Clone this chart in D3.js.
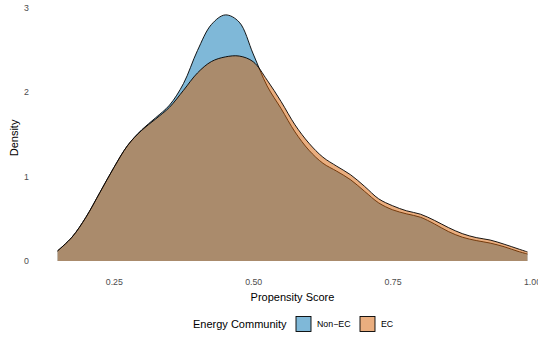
<!DOCTYPE html>
<html>
<head>
<meta charset="utf-8">
<script src="https://cdn.jsdelivr.net/npm/d3@7/dist/d3.min.js"></script>
<style>
  html, body { margin: 0; padding: 0; background: #fff; }
  svg { display: block; font-family: "Liberation Sans", Arial, Helvetica, sans-serif; }
</style>
</head>
<body>
<svg id="chart" width="538" height="337"></svg>
<script>
// Propensity score grid shared by both density estimates
const scoreGrid = [0.149, 0.175, 0.2, 0.225, 0.25, 0.275, 0.3, 0.325, 0.35, 0.375,
  0.4, 0.425, 0.45, 0.475, 0.5, 0.525, 0.55, 0.575, 0.6, 0.625, 0.65, 0.675, 0.7,
  0.725, 0.75, 0.775, 0.8, 0.825, 0.85, 0.875, 0.9, 0.925, 0.95, 0.975, 0.992];

// Kernel density of the propensity score, non-members
const densityNonEC = [0.119, 0.282, 0.518, 0.810, 1.104, 1.369, 1.552, 1.695, 1.845, 2.100,
  2.490, 2.798, 2.912, 2.826, 2.450, 2.071, 1.804, 1.527, 1.311, 1.157, 1.062, 0.960, 0.823,
  0.688, 0.606, 0.558, 0.518, 0.439, 0.349, 0.282, 0.242, 0.212, 0.169, 0.114, 0.083];

// Kernel density of the propensity score, energy community members
const densityEC = [0.119, 0.282, 0.518, 0.810, 1.104, 1.369, 1.546, 1.680, 1.820, 2.020,
  2.225, 2.360, 2.415, 2.425, 2.358, 2.140, 1.887, 1.611, 1.394, 1.229, 1.121, 1.019, 0.882,
  0.736, 0.654, 0.594, 0.554, 0.481, 0.396, 0.324, 0.277, 0.248, 0.199, 0.144, 0.107];

const groupNames = ["Non\u2212EC", "EC"];
const groupColors = ["#0072B2", "#D55E00"];
const xTicks = [0.25, 0.5, 0.75, 1.0];
const yTicks = [0, 1, 2, 3];

const series = [
  { name: groupNames[0], color: groupColors[0], values: densityNonEC },
  { name: groupNames[1], color: groupColors[1], values: densityEC }
];

const svg = d3.select("#chart");

// Panel spans the data range with a 5% margin on each side
const xMin = d3.min(scoreGrid), xMax = d3.max(scoreGrid);
const xPad = (xMax - xMin) * 0.05;
const yMax = d3.max([...densityNonEC, ...densityEC]);
const yPad = yMax * 0.05;

const panel = { left: 34, right: 551, top: 2.6, bottom: 273.3 };

const x = d3.scaleLinear().domain([xMin - xPad, xMax + xPad]).range([panel.left, panel.right]);
const y = d3.scaleLinear().domain([-yPad, yMax + yPad]).range([panel.bottom, panel.top]);

const area = d3.area()
  .x(d => x(d[0]))
  .y0(y(0))
  .y1(d => y(d[1]))
  .curve(d3.curveCatmullRom.alpha(0.5));

const line = d3.line()
  .x(d => x(d[0]))
  .y(d => y(d[1]))
  .curve(d3.curveCatmullRom.alpha(0.5));

const layers = svg.append("g");
series.forEach(s => {
  const pts = scoreGrid.map((v, i) => [v, s.values[i]]);
  layers.append("path")
    .attr("d", area(pts))
    .attr("fill", s.color)
    .attr("fill-opacity", 0.5);
  layers.append("path")
    .attr("d", line(pts))
    .attr("fill", "none")
    .attr("stroke", "#000")
    .attr("stroke-width", 0.9);
});

// Axes: labels only, no lines or ticks
const xAxis = svg.append("g")
  .attr("transform", `translate(0,${panel.bottom + 2})`)
  .call(d3.axisBottom(x).tickValues(xTicks).tickFormat(d3.format(".2f")).tickSize(0).tickPadding(3));
xAxis.select(".domain").remove();
xAxis.selectAll("text").attr("fill", "#4d4d4d").attr("font-size", "8.8px")
  .attr("font-family", "Liberation Sans, Arial, sans-serif");

const yAxis = svg.append("g")
  .attr("transform", `translate(${panel.left - 5},0)`)
  .call(d3.axisLeft(y).tickValues(yTicks).tickFormat(d3.format("d")).tickSize(0).tickPadding(0));
yAxis.select(".domain").remove();
yAxis.selectAll("text").attr("fill", "#4d4d4d").attr("font-size", "8.8px")
  .attr("font-family", "Liberation Sans, Arial, sans-serif");

svg.append("text")
  .attr("x", (panel.left + panel.right) / 2)
  .attr("y", 301)
  .attr("text-anchor", "middle")
  .attr("font-size", "11px")
  .attr("fill", "#000")
  .text("Propensity Score");

svg.append("text")
  .attr("transform", `translate(18,${(panel.top + panel.bottom) / 2}) rotate(-90)`)
  .attr("text-anchor", "middle")
  .attr("font-size", "11px")
  .attr("fill", "#000")
  .text("Density");

// Legend along the bottom
const legend = svg.append("g").attr("transform", "translate(0,324)");
legend.append("text")
  .attr("x", 193).attr("y", 4)
  .attr("font-size", "11px").attr("fill", "#000")
  .text("Energy Community");

const keyX = [296, 360];
series.forEach((s, i) => {
  legend.append("rect")
    .attr("x", keyX[i]).attr("y", -7.5)
    .attr("width", 15).attr("height", 15)
    .attr("fill", s.color).attr("fill-opacity", 0.5)
    .attr("stroke", "#000").attr("stroke-width", 0.9);
  legend.append("text")
    .attr("x", keyX[i] + 21).attr("y", 3)
    .attr("font-size", "8.8px").attr("fill", "#000")
    .text(s.name);
});
</script>
</body>
</html>
